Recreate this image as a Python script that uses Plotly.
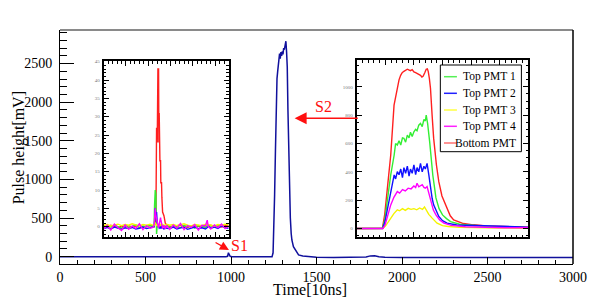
import plotly.graph_objects as go

# ---------------- main waveform (sum signal) ----------------
main_t = [0, 100, 200, 300, 400, 500, 600, 700, 800, 900, 970, 980, 985, 990, 995,
          1005, 1100, 1200, 1240, 1246, 1250, 1255, 1260, 1265, 1269, 1273, 1277, 1280,
          1284, 1288, 1292, 1296, 1300, 1304, 1308, 1312, 1316, 1321, 1325, 1329, 1333,
          1337, 1342, 1347, 1352, 1356, 1365, 1375, 1385, 1395, 1420, 1460, 1500, 1600,
          1700, 1790, 1815, 1840, 1865, 1900, 2000, 2200, 2400, 2600, 2800, 3000]
main_v = [0, -1, -2, -1, -2, -1, -2, -1, -2, -1, -1, 5, 50, 25, 5,
          0, -1, -1, -1, 50, 300, 800, 1380, 2000, 2306, 2400, 2480, 2500,
          2630, 2565, 2650, 2600, 2660, 2620, 2700, 2680, 2760, 2790, 2650, 2456, 1900,
          1380, 900, 500, 300, 216, 130, 87, 45, 22, 10, 0, -8, -10,
          -10, -5, 10, 12, 0, -8, -10, -10, -10, -10, -10, -10]

# ---------------- S1 inset (per PMT) ----------------
s1_x = [0, 8, 16, 24, 32, 40, 48, 56, 64, 72, 80, 88, 96, 104,
        110, 113, 114, 115.5, 117, 118.5, 120, 121.5, 123, 123.7, 124.4, 126, 127.4, 128,
        129.6, 130.4, 132, 135, 138, 141,
        148, 156, 164, 172, 180, 188, 196, 204, 212, 220, 228, 232, 234, 240, 248, 256,
        264, 272, 280]
s1_bottom = [0.3, -0.2, 0.4, 0.1, -0.3, 0.2, 0.0, 0.3, -0.1, 0.2, 0.4, -0.2, 0.1, 0.3,
             0.2, 0.0, 0.5, 1.0, 2.0, 27, 23, 43, 43, 23, 31, 18, 18, 12,
             12, 8, 4, 3, 1, 0.3,
             0.2, -0.1, 0.3, 0.4, 0.0, -0.2, 0.3, 0.1, 0.2, -0.1, 0.3, 0.2, 0.1, 0.4, 0.0, 0.2,
             -0.1, 0.3, 0.2]
s1_top1 = [-0.3, 0.2, -0.1, 0.4, 0.0, -0.4, 0.3, -0.2, 0.1, 0.5, -0.3, 0.2, 0.0, 0.4,
           0.1, 0.5, 6, 10, 9, -2, 0.5, 0.3, 0.0, 0.2, 0.4, 0.1, 0.6, 0.2,
           0.0, 0.3, 0.5, 0.2, 0.0, 0.3,
           -0.2, 0.3, 0.1, -0.3, 0.4, 0.0, 0.2, -0.4, 0.3, 0.1, -0.2, 0.4, 0.0, 0.3, -0.1, 0.2,
           0.5, -0.2, 0.1]
s1_top2 = [-0.5, -0.2, -0.6, -0.1, -0.4, -0.7, -0.3, -0.5, -0.2, -0.6, -0.4, -0.1, -0.5, -0.3,
           -0.2, 0.0, 1, 5, 3, 4, 1, 0.0, -0.3, -0.1, -0.4, -0.2, 0.3, -0.5,
           -0.2, 0.4, -0.3, -0.6, -0.2, -0.4,
           -0.5, -0.1, -0.6, -0.3, -0.2, -0.7, -0.4, -0.1, -0.5, -0.3, -0.6, -0.2, 0.3, -0.4, -0.1, -0.5,
           0.2, -0.3, -0.4]
s1_top3 = [0.4, 0.6, 0.2, 0.5, 0.7, 0.3, 0.6, 0.4, 0.8, 0.5, 0.2, 0.6, 0.4, 0.7,
           0.5, 0.3, 0.6, 1.0, 0.8, 0.4, 0.6, 0.3, 0.5, 0.7, 0.4, 0.6, 0.2, 0.5,
           0.8, 0.4, 0.6, 0.3, 0.5, 0.7,
           0.4, 0.6, 0.3, 0.5, 0.8, 0.4, 0.2, 0.6, 0.5, 0.3, 0.7, 0.4, 0.6, 0.5, 0.2, 0.6,
           0.4, 0.7, 0.5]
s1_top4 = [-0.6, 0.4, -0.9, 0.7, -0.3, -1.0, 0.5, -0.7, 0.2, -0.5, 0.8, -0.8, 0.3, -0.4,
           -0.2, 0.5, 2, 5, 3, 2, 1, 0.4, -0.3, 0.2, 0.8, 1.5, 2.5, 2.0,
           0.8, 0.3, -0.5, 0.4, -0.6, 0.3,
           -0.7, 0.5, -0.4, 0.9, -0.8, 0.3, -0.2, 0.6, -0.9, 0.4, 0.2, 1.8, 0.1, -0.6, 0.5, -0.3,
           0.7, -0.5, 0.2]

# ---------------- S2 inset (per PMT) ----------------
s2_bottom_x = [0, 30, 60, 90, 98, 107.5, 119, 130.6, 142, 148, 153.7, 159, 165, 171, 177,
               182, 188, 194, 200, 206, 211.5, 217, 223, 228, 232, 238, 243, 247, 250, 254,
               258, 263.6, 269, 278.6, 287, 298, 310, 327, 339, 373, 408, 454, 512, 560, 599]
s2_bottom_v = [0, 1, 0, 2, 100, 300, 519, 871, 1000, 1050, 1082, 1100, 1110, 1118, 1125,
               1120, 1115, 1122, 1106, 1100, 1095, 1090, 1082, 1070, 1075, 1100, 1125, 1128, 1110, 1060,
               989, 800, 638, 450, 331, 230, 167, 90, 61, 35, 26, 18, 14, 11, 10]
s2_top1_x = [0, 30, 60, 90, 98, 107, 119, 131, 136, 142, 148, 154, 160, 165, 171,
             177, 183, 188, 194, 200, 206, 211, 217, 223, 229, 235, 240, 243, 248, 255,
             260, 266, 272, 277, 288, 300, 314, 328, 360, 410, 470, 540, 599]
s2_top1_v = [0, 1, 0, 1, 60, 200, 378, 519, 600, 589, 620, 590, 640, 637, 610,
             660, 640, 680, 650, 683, 700, 690, 730, 742, 720, 770, 760, 800, 740, 613,
             480, 378, 290, 216, 140, 96, 70, 49, 30, 20, 12, 8, 5]
s2_top2_x = [0, 30, 60, 90, 98, 107, 114, 122, 131, 136, 142, 148, 154, 160, 165,
             171, 177, 183, 188, 194, 200, 206, 211, 217, 223, 229, 235, 240, 246, 252,
             258, 264, 269, 278, 287, 300, 316, 350, 390, 430, 450, 500, 560, 599]
s2_top2_v = [0, 0, 1, 0, 40, 130, 214, 300, 378, 350, 401, 380, 420, 360, 430,
             390, 440, 370, 420, 390, 450, 380, 430, 400, 460, 400, 440, 420, 460, 380,
             284, 210, 167, 120, 85, 55, 38, 25, 22, 18, 20, 14, 12, 10]
s2_top3_x = [0, 30, 60, 90, 100, 110, 119, 130, 142, 150, 160, 170, 180, 190, 200,
             210, 220, 230, 237, 243, 252, 263, 272, 281, 300, 320, 360, 420, 500, 599]
s2_top3_v = [0, 0, 0, 0, 15, 45, 73, 105, 132, 125, 140, 128, 142, 135, 140,
             132, 145, 135, 152, 130, 100, 75, 55, 38, 20, 14, 8, 5, 3, 2]
s2_top4_x = [0, 30, 60, 92, 100, 110, 119, 130, 142, 150, 160, 170, 180, 190, 200,
             206, 211, 217, 223, 229, 235, 240, 246, 252, 258, 268, 277, 290, 305, 330,
             380, 450, 520, 599]
s2_top4_v = [0, 0, 0, 0, 30, 110, 167, 220, 261, 250, 275, 265, 285, 280, 300,
             290, 320, 295, 300, 310, 290, 285, 296, 250, 190, 130, 96, 60, 38, 22,
             12, 8, 5, 5]

legend_names = ["Top PMT 1", "Top PMT 2", "Top PMT 3", "Top PMT 4", "Bottom PMT"]
legend_colors = ["#55f055", "#2020ff", "#ffff40", "#ff20ff", "#ff7070"]
trace_colors = {"Top PMT 1": "#33ee33", "Top PMT 2": "#1010ff", "Top PMT 3": "#f4f400",
                "Top PMT 4": "#ff00ff", "Bottom PMT": "#ff2020"}

main_xticks = [0, 500, 1000, 1500, 2000, 2500, 3000]
main_yticks = [0, 500, 1000, 1500, 2000, 2500]

SERIF = "Liberation Serif, Times New Roman, serif"
W, H = 599, 298
ML, MR, MT, MB = 60, 22, 30, 34
PW, PH = W - ML - MR, H - MT - MB


def px(x):
    return (x - ML) / PW


def py(y):
    return (H - MB - y) / PH


fig = go.Figure()
fig.add_trace(go.Scatter(x=main_t, y=main_v, mode="lines", showlegend=False,
                         line=dict(color="#10109c", width=1.5), xaxis="x", yaxis="y"))

s1_series = [("Bottom PMT", s1_bottom), ("Top PMT 1", s1_top1), ("Top PMT 2", s1_top2),
             ("Top PMT 3", s1_top3), ("Top PMT 4", s1_top4)]
for name, vals in s1_series:
    fig.add_trace(go.Scatter(x=s1_x, y=vals, mode="lines", name=name, showlegend=False,
                             line=dict(color=trace_colors[name], width=1.4),
                             xaxis="x2", yaxis="y2"))

s2_series = [("Bottom PMT", s2_bottom_x, s2_bottom_v), ("Top PMT 1", s2_top1_x, s2_top1_v),
             ("Top PMT 2", s2_top2_x, s2_top2_v), ("Top PMT 3", s2_top3_x, s2_top3_v),
             ("Top PMT 4", s2_top4_x, s2_top4_v)]
for name, xs, vals in s2_series:
    fig.add_trace(go.Scatter(x=xs, y=vals, mode="lines", name=name, showlegend=False,
                             line=dict(color=trace_colors[name], width=1.4),
                             xaxis="x3", yaxis="y3"))

tickfont_main = dict(family=SERIF, size=14, color="black")
inset_common = dict(showline=True, linecolor="black", linewidth=2, mirror="allticks",
                    ticks="inside", ticklen=5, tickcolor="black", tickwidth=1,
                    showgrid=False, zeroline=False)

fig.update_layout(
    width=W, height=H,
    margin=dict(l=ML, r=MR, t=MT, b=MB),
    paper_bgcolor="white", plot_bgcolor="white",
    showlegend=False,
    xaxis=dict(domain=[0, 1], anchor="y", range=[0, 3000], tickmode="array", tickvals=main_xticks,
               ticks="inside", ticklen=7, tickcolor="black", showline=True, linecolor="black",
               linewidth=1, showgrid=False, zeroline=False, tickfont=tickfont_main,
               ticklabelstandoff=0,
               minor=dict(tickmode="linear", tick0=0, dtick=100, ticks="inside", ticklen=4,
                          tickcolor="black", showgrid=False)),
    yaxis=dict(domain=[0, 1], anchor="x", range=[-95, 2935], tickmode="array", tickvals=main_yticks,
               ticks="inside", ticklen=14, tickcolor="black", showline=True, linecolor="black",
               linewidth=1, showgrid=False, zeroline=False, tickfont=tickfont_main, ticklabelstandoff=4,
               minor=dict(tickmode="linear", tick0=0, dtick=100, ticks="inside", ticklen=7,
                          tickcolor="black", showgrid=False)),
    xaxis2=dict(domain=[px(104), px(230)], anchor="y2", range=[0, 280], dtick=50, tick0=0,
                showticklabels=False,
                minor=dict(dtick=10, ticks="inside", ticklen=2.5, tickcolor="black"), **inset_common),
    yaxis2=dict(domain=[py(237), py(61)], anchor="x2", range=[-2.8, 45.2], dtick=5, tick0=0,
                tickfont=dict(family=SERIF, size=5, color="#777"), ticklabelstandoff=1,
                minor=dict(dtick=1, ticks="inside", ticklen=2.5, tickcolor="black"), **inset_common),
    xaxis3=dict(domain=[px(359), px(532)], anchor="y3", range=[0, 600], dtick=100, tick0=0,
                showticklabels=False,
                minor=dict(dtick=20, ticks="inside", ticklen=2.5, tickcolor="black"), **inset_common),
    yaxis3=dict(domain=[py(237), py(60)], anchor="x3", range=[-60, 1190], dtick=200, tick0=0,
                tickfont=dict(family=SERIF, size=5, color="#777"), ticklabelstandoff=1,
                minor=dict(dtick=50, ticks="inside", ticklen=2.5, tickcolor="black"), **inset_common),
)

shapes = [
    dict(type="line", xref="paper", yref="paper", x0=0, x1=1, y0=1, y1=1,
         line=dict(color="#8a8a8a", width=2)),
    dict(type="line", xref="paper", yref="paper", x0=1, x1=1, y0=0, y1=1,
         line=dict(color="black", width=1.5)),
    # legend box of the S2 inset
    dict(type="rect", xref="paper", yref="paper", x0=px(443.3), x1=px(525), y0=py(151.7), y1=py(65),
         line=dict(color="black", width=1), fillcolor="white"),
]
annotations = [
    dict(text="Pulse height[mV]", xref="paper", yref="paper", x=px(19), y=py(148), textangle=-90,
         showarrow=False, font=dict(family=SERIF, size=16, color="black"),
         xanchor="center", yanchor="middle"),
    dict(text="Time[10ns]", xref="paper", yref="paper", x=px(312), y=py(289), showarrow=False,
         font=dict(family=SERIF, size=16, color="black"), xanchor="center", yanchor="middle"),
    # S1 arrow and label
    dict(text="", x=988, y=85, xref="x", yref="y", ax=901, ay=194, axref="x", ayref="y",
         showarrow=True, arrowhead=2, arrowsize=1.4, arrowwidth=1.3, arrowcolor="#ff1010"),
    dict(text="S1", x=1052, y=139, xref="x", yref="y", showarrow=False,
         font=dict(family=SERIF, size=16, color="#ff1010"), xanchor="center", yanchor="middle"),
    # S2 arrow and label
    dict(text="", x=1372, y=1793, xref="x", yref="y", ax=1750, ay=1793, axref="x", ayref="y",
         showarrow=True, arrowhead=2, arrowsize=1.6, arrowwidth=1.5, arrowcolor="#ff1010"),
    dict(text="S2", x=1541, y=1948, xref="x", yref="y", showarrow=False,
         font=dict(family=SERIF, size=16, color="#ff1010"), xanchor="center", yanchor="middle"),
]
rows = [76.7, 93.3, 110, 126.3, 143]
for name, col, ry in zip(legend_names, legend_colors, rows):
    shapes.append(dict(type="line", xref="paper", yref="paper", x0=px(447), x1=px(460),
                       y0=py(ry), y1=py(ry), line=dict(color=col, width=1.5)))
    annotations.append(dict(text=name, xref="paper", yref="paper", x=px(522), y=py(ry),
                            showarrow=False, xanchor="right", yanchor="middle",
                            font=dict(family=SERIF, size=11.5, color="black")))

fig.update_layout(shapes=shapes, annotations=annotations)
fig.write_html("out.html", config={"displayModeBar": False},
               post_script="document.body.style.margin='0';document.body.style.overflow='hidden';")
